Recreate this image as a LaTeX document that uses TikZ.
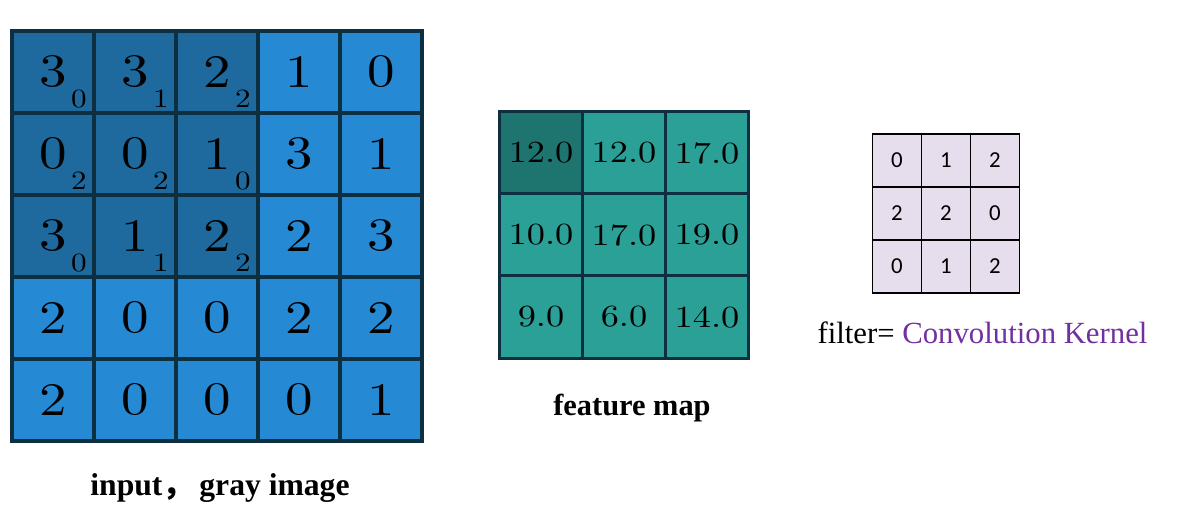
\documentclass[tikz,border=0pt]{standalone}
\usepackage{fontspec}
\newfontfamily\capfont{Liberation Serif}
\newfontfamily\kernfont{Carlito}
\newfontfamily\cjkfont{Noto Sans CJK SC}
\newfontfamily\cmfont[Extension=.otf, FakeStretch=1.18]{lmroman10-regular}

\definecolor{inblue}{HTML}{2689D4}
\definecolor{indark}{HTML}{1E6A9E}
\definecolor{gridedge}{HTML}{0D2F40}
\definecolor{fmteal}{HTML}{2BA097}
\definecolor{fmdark}{HTML}{1E7570}
\definecolor{kfill}{HTML}{E6DEEC}
\definecolor{kpurple}{HTML}{7030A0}

\tikzset{
  incell/.style={rectangle, draw=gridedge, fill=inblue, line width=2.3pt, minimum size=1.64cm, inner sep=0pt, font=\cmfont\fontsize{26.5}{26.5}\selectfont},
  indim/.style={incell, fill=indark},
  wgt/.style={font=\cmfont\fontsize{15}{15}\selectfont, inner sep=0pt, xshift=0.52cm, yshift=-0.54cm},
  fmcell/.style={rectangle, draw=gridedge, fill=fmteal, line width=2pt, minimum size=1.654cm, inner sep=0pt, font=\cmfont\fontsize{17.5}{17.5}\selectfont},
  kcell/.style={rectangle, draw=black, fill=kfill, line width=0.8pt, minimum width=0.986cm, minimum height=1.06cm, inner sep=0pt, font=\kernfont\fontsize{13}{13}\selectfont}
}

\begin{document}
\begin{tikzpicture}
    \useasboundingbox (0,0) rectangle (23.78,10.28);

    % input
    \node[indim](in11) at (1.06, 8.84){3};
    \node[indim](in12) at (2.70, 8.84){3};
    \node[indim](in13) at (4.34, 8.84){2};
    \node[incell](in14) at (5.98, 8.84){1};
    \node[incell](in15) at (7.62, 8.84){0};

    \node[indim](in21) at (1.06, 7.20){0};
    \node[indim](in22) at (2.70, 7.20){0};
    \node[indim](in23) at (4.34, 7.20){1};
    \node[incell](in24) at (5.98, 7.20){3};
    \node[incell](in25) at (7.62, 7.20){1};

    \node[indim](in31) at (1.06, 5.56){3};
    \node[indim](in32) at (2.70, 5.56){1};
    \node[indim](in33) at (4.34, 5.56){2};
    \node[incell](in34) at (5.98, 5.56){2};
    \node[incell](in35) at (7.62, 5.56){3};

    \node[incell](in41) at (1.06, 3.92){2};
    \node[incell](in42) at (2.70, 3.92){0};
    \node[incell](in43) at (4.34, 3.92){0};
    \node[incell](in44) at (5.98, 3.92){2};
    \node[incell](in45) at (7.62, 3.92){2};

    \node[incell](in51) at (1.06, 2.28){2};
    \node[incell](in52) at (2.70, 2.28){0};
    \node[incell](in53) at (4.34, 2.28){0};
    \node[incell](in54) at (5.98, 2.28){0};
    \node[incell](in55) at (7.62, 2.28){1};

    % kernel weights
    \node[wgt](w11) at (in11){0};
    \node[wgt](w12) at (in12){1};
    \node[wgt](w13) at (in13){2};
    \node[wgt](w21) at (in21){2};
    \node[wgt](w22) at (in22){2};
    \node[wgt](w23) at (in23){0};
    \node[wgt](w31) at (in31){0};
    \node[wgt](w32) at (in32){1};
    \node[wgt](w33) at (in33){2};

    % feature map
    \node[fmcell, fill=fmdark](fm11) at (10.82, 7.22){12.0};
    \node[fmcell](fm12) at (12.48, 7.22){12.0};
    \node[fmcell](fm13) at (14.14, 7.22){17.0};
    \node[fmcell](fm21) at (10.82, 5.58){10.0};
    \node[fmcell](fm22) at (12.48, 5.58){17.0};
    \node[fmcell](fm23) at (14.14, 5.58){19.0};
    \node[fmcell](fm31) at (10.82, 3.94){9.0};
    \node[fmcell](fm32) at (12.48, 3.94){6.0};
    \node[fmcell](fm33) at (14.14, 3.94){14.0};

    % filter
    \node[kcell](k11) at (17.94, 7.07){0};
    \node[kcell](k12) at (18.92, 7.07){1};
    \node[kcell](k13) at (19.90, 7.07){2};
    \node[kcell](k21) at (17.94, 6.01){2};
    \node[kcell](k22) at (18.92, 6.01){2};
    \node[kcell](k23) at (19.90, 6.01){0};
    \node[kcell](k31) at (17.94, 4.95){0};
    \node[kcell](k32) at (18.92, 4.95){1};
    \node[kcell](k33) at (19.90, 4.95){2};

    \node[font=\capfont\bfseries\fontsize{18}{18}\selectfont](incap) at (4.40, 0.52){input{\cjkfont ，}\,gray image};
    \node[font=\capfont\bfseries\fontsize{17.3}{17.3}\selectfont](fmcap) at (12.64, 2.12){feature map};
    \node[font=\capfont\fontsize{17.5}{17.5}\selectfont](kcap) at (19.65, 3.62){filter= \textcolor{kpurple}{Convolution Kernel}};
\end{tikzpicture}
\end{document}
